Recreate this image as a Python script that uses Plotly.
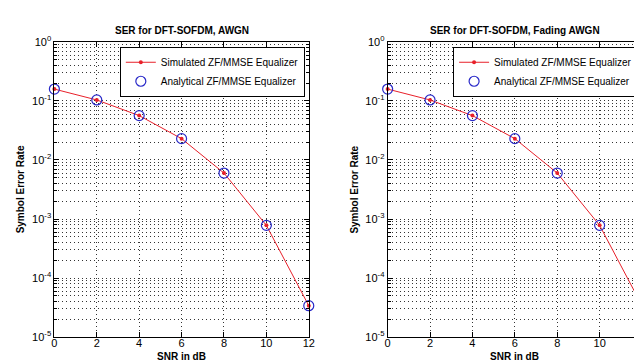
import plotly.graph_objects as go

snr_db = [0, 2, 4, 6, 8, 10, 12]
ser_sim_awgn = [0.159, 0.104, 0.0565, 0.023, 0.006, 7.8e-4, 3.4e-5]
ser_ana_awgn = [0.159, 0.104, 0.0565, 0.023, 0.006, 7.8e-4, 3.4e-5]
ser_sim_fading = [0.159, 0.104, 0.0565, 0.023, 0.006, 7.8e-4, 3.4e-5]
ser_ana_fading = [0.159, 0.104, 0.0565, 0.023, 0.006, 7.8e-4, 3.4e-5]

titles = ["SER for DFT-SOFDM, AWGN", "SER for DFT-SOFDM, Fading AWGN"]
x_label = "SNR in dB"
y_label = "Symbol Error Rate"
x_ticks = [0, 2, 4, 6, 8, 10, 12]
y_tickvals = [1, 0.1, 0.01, 0.001, 0.0001, 0.00001]
y_ticktext = ["10<sup>0</sup>", "10<sup>-1</sup>", "10<sup>-2</sup>",
              "10<sup>-3</sup>", "10<sup>-4</sup>", "10<sup>-5</sup>"]
minor_vals = [m * 10 ** e for e in range(-5, 0) for m in range(2, 10)]

FONT = "Liberation Sans, Arial, sans-serif"
RED = "#e8202a"
BLUE = "#2828c8"
W, H = 642, 361

fig = go.Figure()

panels = [
    (ser_sim_awgn, ser_ana_awgn, "x", "y", "legend", [44 / W, 302 / W]),
    (ser_sim_fading, ser_ana_fading, "x2", "y2", "legend2", [382 / W, 640 / W]),
]

for i, (sim, ana, xa, ya, lg, dom) in enumerate(panels):
    fig.add_trace(go.Scatter(
        x=snr_db, y=sim, mode="lines+markers", name="Simulated ZF/MMSE Equalizer",
        line=dict(color=RED, width=1), marker=dict(color=RED, size=4),
        xaxis=xa, yaxis=ya, legend=lg, cliponaxis=False))
    fig.add_trace(go.Scatter(
        x=snr_db, y=ana, mode="markers", name="Analytical ZF/MMSE Equalizer",
        marker=dict(symbol="circle-open", color=BLUE, size=10, line=dict(width=1.2)),
        xaxis=xa, yaxis=ya, legend=lg, cliponaxis=False))

axis_common = dict(
    showline=True, linecolor="black", linewidth=1, mirror="allticks",
    ticks="inside", tickcolor="black", ticklen=5,
    showgrid=True, gridcolor="#333333", gridwidth=1, griddash="1px,3px",
    zeroline=False, tickfont=dict(family=FONT, size=11, color="black"),
)

y_dom = [(H - 334) / H, (H - 27) / H]
layout = dict(
    width=W, height=H, margin=dict(l=0, r=0, t=0, b=0),
    paper_bgcolor="white", plot_bgcolor="white",
    font=dict(family=FONT, color="black"),
)
for i, (sim, ana, xa, ya, lg, dom) in enumerate(panels):
    suffix = "" if i == 0 else "2"
    layout["xaxis" + suffix] = dict(
        axis_common, domain=dom, range=[0, 12], tickvals=x_ticks,
        anchor="y" + suffix, ticklabelstandoff=-4,
    )
    layout["yaxis" + suffix] = dict(
        axis_common, domain=y_dom, type="log", range=[-5, 0],
        tickvals=y_tickvals, ticktext=y_ticktext, anchor="x" + suffix,
        minor=dict(tickvals=minor_vals, showgrid=True, gridcolor="#333333",
                   griddash="1px,3px", gridwidth=1, ticks="inside", ticklen=3,
                   tickcolor="black"),
    )
    layout[lg] = dict(
        x=dom[1] - 4 / W, xanchor="right", y=(H - 32) / H, yanchor="top",
        bgcolor="white", bordercolor="black", borderwidth=1,
        font=dict(family=FONT, size=10, color="black"),
        tracegroupgap=0,
    )

fig.update_layout(**layout)

for i, (sim, ana, xa, ya, lg, dom) in enumerate(panels):
    fig.add_annotation(
        text="<b>" + titles[i] + "</b>", xref="paper", yref="paper",
        x=(dom[0] + dom[1]) / 2, y=(H - 15) / H, xanchor="center", yanchor="middle",
        showarrow=False, font=dict(family=FONT, size=10, color="black"))
    fig.add_annotation(
        text="<b>" + x_label + "</b>", xref="paper", yref="paper",
        x=(dom[0] + dom[1]) / 2, y=(H - 354) / H, xanchor="center", yanchor="middle",
        showarrow=False, font=dict(family=FONT, size=10, color="black"))
    fig.add_annotation(
        text="<b>" + y_label + "</b>", xref="paper", yref="paper",
        x=dom[0] - 34 / W, y=(y_dom[0] + y_dom[1]) / 2, xanchor="center", yanchor="middle",
        textangle=-90, showarrow=False, font=dict(family=FONT, size=10, color="black"))

fig.write_html("out.html")
